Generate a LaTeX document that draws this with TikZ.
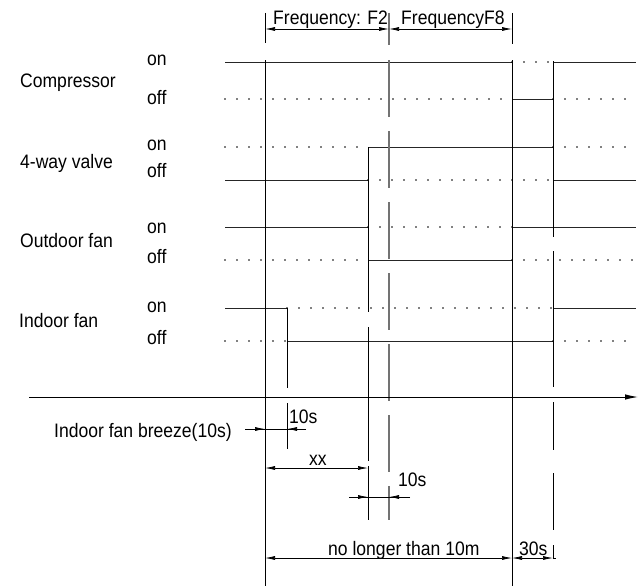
\documentclass[tikz,border=0pt]{standalone}
\usepackage{fontspec}
\setmainfont{Liberation Sans}[FakeStretch=0.9]
\usetikzlibrary{arrows.meta}
\begin{document}
\begin{tikzpicture}[x=1pt,y=-1pt,
 lbl/.style={anchor=base west,inner sep=0pt,font=\fontsize{19.5}{22}\selectfont},
 sig/.style={line width=1pt,black!85},
 dots/.style={line width=1.6pt,line cap=round,dash pattern=on 0pt off 12pt,black},
 vline/.style={line width=1pt,black},
 gline/.style={line width=1.1pt,black!55},
 dim/.style={line width=0.7pt},
 tip/.style={-{Latex[length=10pt,width=4pt]},line width=0.7pt},
 dimarr/.style={{Latex[length=10pt,width=4pt]}-{Latex[length=10pt,width=4pt]},line width=0.7pt}]
\useasboundingbox (0,0) rectangle (639,586);
% labels
\node[lbl] (comp) at (20,87) {Compressor};
\node[lbl] (valve) at (20,168) {4-way valve};
\node[lbl] (ofan) at (20,247) {Outdoor fan};
\node[lbl] (ifan) at (19,327) {Indoor fan};
\node[lbl] (on1) at (147,66) {on};
\node[lbl] (off1) at (147,104) {off};
\node[lbl] (on2) at (147,150) {on};
\node[lbl] (off2) at (147,177) {off};
\node[lbl] (on3) at (147,233) {on};
\node[lbl] (off3) at (147,263) {off};
\node[lbl] (on4) at (147,312) {on};
\node[lbl] (off4) at (147,344) {off};
\node[lbl] (f2) at (273,25) {Frequency: F2};
\node[lbl] (f8) at (401,25) {FrequencyF8};
\node[lbl] (breeze) at (54,437) {Indoor fan breeze(10s)};
\node[lbl] (t10a) at (289,423) {10s};
\node[lbl] (xx) at (309,465) {xx};
\node[lbl] (t10b) at (398,486) {10s};
\node[lbl] (t10m) at (328,555) {no longer than 10m};
\node[lbl] (t30) at (519,555) {30s};
% compressor
\draw[sig] (225,62) -- (512,62);
\draw[dots] (512,62) -- (553,62);
\draw[sig] (553,62) -- (636,62);
\draw[dots] (225,99) -- (512,99);
\draw[sig] (512,99) -- (553,99);
\draw[dots] (553,99) -- (636,99);
% 4-way valve
\draw[dots] (225,147) -- (368,147);
\draw[sig] (368,147) -- (553,147);
\draw[dots] (553,147) -- (636,147);
\draw[sig] (225,180) -- (368,180);
\draw[dots] (368,180) -- (553,180);
\draw[sig] (553,180) -- (636,180);
% outdoor fan
\draw[sig] (225,227) -- (368,227);
\draw[dots] (368,227) -- (512,227);
\draw[sig] (512,227) -- (636,227);
\draw[dots] (225,260) -- (368,260);
\draw[sig] (368,260) -- (512,260);
\draw[dots] (512,260) -- (636,260);
% indoor fan
\draw[sig] (225,308) -- (287,308);
\draw[dots] (287,308) -- (553,308);
\draw[sig] (553,308) -- (636,308);
\draw[dots] (225,341) -- (287,341);
\draw[sig] (287,341) -- (553,341);
\draw[dots] (553,341) -- (636,341);
% vertical lines
\draw[vline] (265,13) -- (265,43);
\draw[vline] (265,60) -- (265,586);
\draw[vline] (287,308) -- (287,388);
\draw[vline] (287,403) -- (287,449);
\draw[vline] (368,147) -- (368,312);
\draw[vline] (368,327) -- (368,461);
\draw[vline] (368,466) -- (368,520);
\draw[gline] (389,13) -- (389,45);
\draw[gline,dash pattern=on 57pt off 14pt] (389,60) -- (389,520);
\draw[vline] (512,13) -- (512,44);
\draw[vline] (512,60) -- (512,586);
\draw[vline] (553,61) -- (553,237);
\draw[vline] (553,251) -- (553,387);
\draw[vline] (553,402) -- (553,450);
\draw[vline] (553,473) -- (553,530);
\draw[vline] (553,545) -- (553,558);
% time axis
\draw[line width=1pt,-{Latex[length=13pt,width=5.5pt]}] (29,397) -- (638,397);
% dimensions
\draw[dimarr] (265,29) -- (389,29);
\draw[dimarr] (389,29) -- (512,29);
\draw[dim] (245,429) -- (306,429);
\draw[tip] (245,429) -- (265,429);
\draw[tip] (306,429) -- (287,429);
\draw[dimarr] (265,468) -- (368,468);
\draw[dim] (349,497) -- (410,497);
\draw[tip] (349,497) -- (368,497);
\draw[tip] (410,497) -- (389,497);
\draw[dimarr] (265,558) -- (512,558);
\draw[dimarr] (512,558) -- (553,558);
\draw[dim] (553,558) -- (556,558);
\end{tikzpicture}
\end{document}
